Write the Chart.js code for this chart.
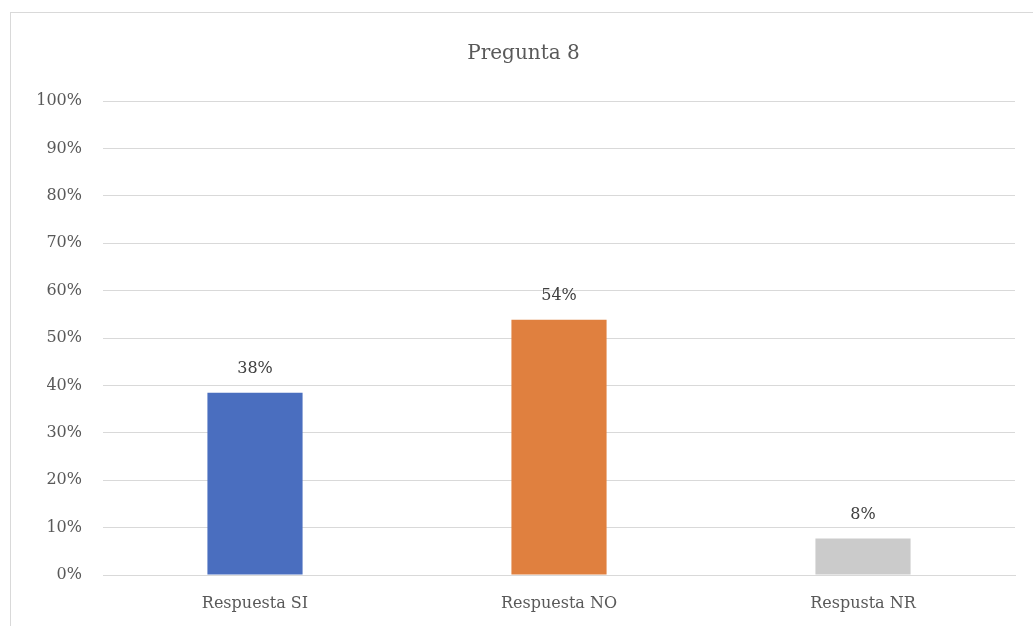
<!DOCTYPE html>
<html>
<head>
<meta charset="utf-8">
<script src="https://cdn.jsdelivr.net/npm/chart.js@4.4.1/dist/chart.umd.min.js"></script>
<style>
  html, body { margin: 0; padding: 0; background: #fff; overflow: hidden; }
  #wrap { position: absolute; left: 0; top: 0; width: 1033px; height: 626px; }
  #frame { position: absolute; left: 10px; top: 12px; width: 1100px; height: 700px; border: 1.5px solid #d9d9d9; box-sizing: border-box; pointer-events: none; }
</style>
</head>
<body>
<div id="wrap"><canvas id="c" width="1033" height="626"></canvas></div>
<div id="frame"></div>
<script>
const categories = ["Respuesta SI", "Respuesta NO", "Respusta NR"];
const values = [38.46, 53.85, 7.69];
const valueLabels = ["38%", "54%", "8%"];
const barColors = ["#4A6EBF", "#E0803F", "#CBCBCB"];
const titleText = "Pregunta 8";

const serif = "'DejaVu Serif', 'Liberation Serif', serif";

const dataLabelPlugin = {
  id: 'dataLabels',
  afterDatasetsDraw(chart) {
    const ctx = chart.ctx;
    const meta = chart.getDatasetMeta(0);
    ctx.save();
    ctx.font = "16px " + serif;
    ctx.fillStyle = "#404040";
    ctx.textAlign = "center";
    ctx.textBaseline = "middle";
    meta.data.forEach((bar, i) => {
      ctx.fillText(valueLabels[i], bar.x, bar.y - 24);
    });
    ctx.restore();
  }
};

new Chart(document.getElementById('c'), {
  type: 'bar',
  data: {
    labels: categories,
    datasets: [{
      data: values,
      backgroundColor: barColors,
      borderWidth: 0,
      categoryPercentage: 1.0,
      barPercentage: 0.313
    }]
  },
  options: {
    responsive: false,
    animation: false,
    layout: { padding: { left: 32, right: 18, top: 0, bottom: 12 } },
    plugins: {
      legend: { display: false },
      tooltip: { enabled: false },
      title: {
        display: true,
        text: titleText,
        color: "#595959",
        font: { family: serif, size: 20, weight: 'normal' },
        padding: { top: 42, bottom: 35 }
      }
    },
    scales: {
      x: {
        afterFit(scale) { scale.height = 39; },
        grid: { display: false, drawTicks: false },
        border: { display: true, color: "#d9d9d9", width: 1 },
        ticks: {
          color: "#595959",
          font: { family: serif, size: 16 },
          padding: 19
        }
      },
      y: {
        min: 0,
        max: 100,
        afterFit(scale) { scale.width = 71; },
        grid: { color: "#d9d9d9", lineWidth: 1, drawTicks: false },
        border: { display: false },
        ticks: {
          stepSize: 10,
          color: "#595959",
          font: { family: serif, size: 16 },
          padding: 21,
          callback: (v) => v + "%"
        }
      }
    }
  },
  plugins: [dataLabelPlugin]
});
</script>
</body>
</html>
